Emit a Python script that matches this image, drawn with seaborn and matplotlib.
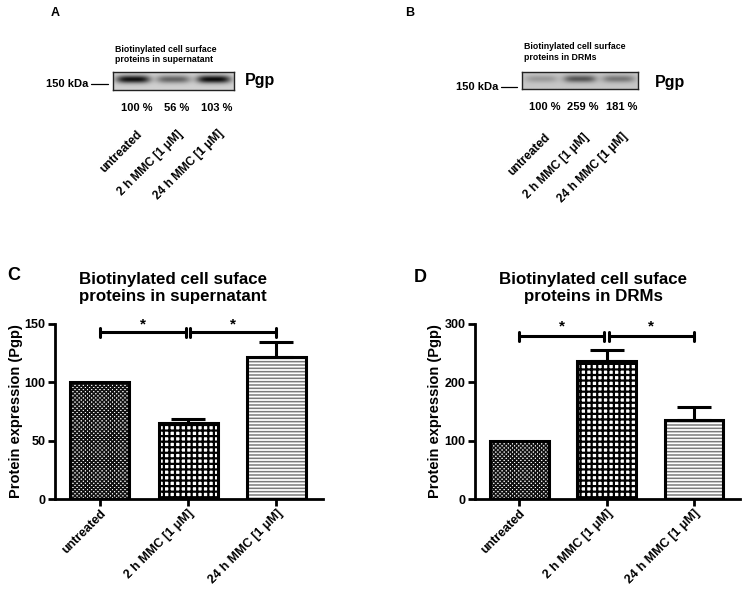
import numpy as np
import pandas as pd
import seaborn as sns
from matplotlib import pyplot as plt
from matplotlib import transforms

W, H = 745, 595

groups = ['untreated', '2 h MMC [1 μM]', '24 h MMC [1 μM]']

# western blot quantification (panels A, B)
blot_sup_percent = [100, 56, 103]
blot_drm_percent = [100, 259, 181]

# densitometry mean +/- SEM (panels C, D)
sup_mean = [100, 65, 122]
sup_err = [0, 4, 13]
drm_mean = [100, 236, 135]
drm_err = [0, 19, 23]

hatches = ['xxxxxxxx', '+++', '-----']
hatch_colors = ['#111111', '#000000', '#7a7a7a']

sns.set_style('ticks')
plt.rcParams['font.family'] = ['Liberation Sans', 'DejaVu Sans']
plt.rcParams['hatch.linewidth'] = 1.0
for key in ('text.color', 'axes.labelcolor', 'xtick.color', 'ytick.color', 'axes.edgecolor'):
    plt.rcParams[key] = 'black'


def px_axes(fig, left, top, width, height):
    return fig.add_axes([left / W, 1 - (top + height) / H, width / W, height / H])


def blot_panel(fig, box, percents, scale, bg, title, title_y, kda_y, pgp_xy, label_y, pct_y):
    ax = px_axes(fig, *box)
    xs = np.linspace(-0.5, 2.5, 300)
    ys = np.linspace(0, 1, 40)
    X, Y = np.meshgrid(xs, ys)
    img = np.full(X.shape, bg)
    for lane, p in enumerate(percents):
        band = np.exp(-((X - lane) / 0.42) ** 4) * np.exp(-((Y - 0.6) / 0.22) ** 2)
        img -= scale * p / max(percents) * band
    ax.imshow(img, cmap='gray', vmin=0, vmax=1, extent=(-0.5, 2.5, 0, 1),
              origin='lower', aspect='auto')
    ax.set_xticks([])
    ax.set_yticks([])
    for s in ax.spines.values():
        s.set_linewidth(1.0)
        s.set_color('#222222')

    tr = transforms.blended_transform_factory(ax.transData, fig.transFigure)
    ax.text(-0.45, 1 + title_y, title, fontsize=6.3, fontweight='bold',
            ha='left', va='bottom', clip_on=False)
    ax.plot([-1.05, -0.62], [kda_y, kda_y], color='black', lw=0.9, clip_on=False)
    ax.text(-1.12, kda_y, '150 kDa', fontsize=8, fontweight='bold', ha='right', va='center')
    ax.text(pgp_xy[0], pgp_xy[1], 'Pgp', fontsize=11.5, fontweight='bold', ha='left', va='center')
    for lane, p in enumerate(percents):
        ax.text(lane + 0.08, 1 - pct_y / H, f'{p} %', fontsize=8, fontweight='bold',
                ha='center', va='center', transform=tr)
        ax.text(lane + 0.08, 1 - label_y / H, groups[lane], fontsize=8.6, fontweight='bold',
                rotation=45, ha='right', va='top', rotation_mode='anchor', transform=tr)
    ax.set_xlim(-0.5, 2.5)
    ax.set_ylim(0, 1)
    return ax


def bar_panel(fig, box, means, errs, top, step, title, title_xy, sig_y, star_y, ylab_x):
    ax = px_axes(fig, *box)
    df = pd.DataFrame({'group': groups, 'value': means})
    sns.barplot(data=df, x='group', y='value', order=groups, ax=ax,
                color='white', width=0.67, linewidth=0)
    for p, h, c in zip(ax.patches, hatches, hatch_colors):
        p.set_facecolor('white')
        p.set_hatch(h)
        p.set_edgecolor(c)
        p.set_linewidth(0)
        if hasattr(p, 'set_hatch_linewidth'):
            p.set_hatch_linewidth(1.6 if h == '+++' else 1.1)
    xs = [p.get_x() + p.get_width() / 2 for p in ax.patches[:3]]
    sns.barplot(data=df, x='group', y='value', order=groups, ax=ax,
                color='black', width=0.67, fill=False, linewidth=2.2)

    for x, m, e in zip(xs, means, errs):
        if e > 0:
            ax.errorbar([x], [m], yerr=[[0], [e]], fmt='none', ecolor='black',
                        elinewidth=2.2, capsize=12, capthick=2.2, zorder=5)

    tick_h = top * 0.025
    for a, b in [(0, 0.975), (1.025, 2)]:
        ax.plot([a, b], [sig_y, sig_y], color='black', lw=2.2, clip_on=False, zorder=6)
        for e in (a, b):
            ax.plot([e, e], [sig_y - tick_h, sig_y + tick_h], color='black', lw=2.2,
                    clip_on=False, zorder=6)
        ax.text((a + b) / 2, star_y, '*', fontsize=11, fontweight='bold',
                ha='center', va='center', clip_on=False)

    ax.set_xlim(-0.51, 2.53)
    ax.set_ylim(0, top)
    ax.set_yticks(range(0, top + 1, step))
    ax.set_xlabel('')
    ax.set_ylabel('Protein expression (Pgp)', fontsize=10.5, fontweight='bold')
    ax.yaxis.set_label_coords(ylab_x, 0.5)
    ax.set_xticks(range(3))
    ax.set_xticklabels(groups, rotation=45, ha='right', rotation_mode='anchor',
                       fontsize=9, fontweight='bold')
    for lbl in ax.get_yticklabels():
        lbl.set_fontweight('bold')
    ax.tick_params(width=2, length=5, pad=2)
    ax.tick_params(axis='y', labelsize=9)
    ax.tick_params(axis='x', labelsize=9, pad=1)
    sns.despine(ax=ax)
    for s in ('left', 'bottom'):
        ax.spines[s].set_linewidth(2)
    fig.text(title_xy[0] / W, 1 - title_xy[1] / H, title, fontsize=12.2, fontweight='bold',
             ha='center', va='center', linespacing=1.1)
    return ax


fig = plt.figure(figsize=(W / 100, H / 100), dpi=100)

blot_panel(fig, (113, 72, 121, 18), blot_sup_percent, 0.78, 0.82,
           'Biotinylated cell surface\nproteins in supernatant', 0.45, 0.33, (2.78, 0.5),
           128, 108)
blot_panel(fig, (522, 72, 116, 17), blot_drm_percent, 0.45, 0.78,
           'Biotinylated cell surface\nproteins in DRMs', 0.6, 0.12, (2.94, 0.4),
           131, 107)

bar_panel(fig, (55, 324, 268, 175), sup_mean, sup_err, 150, 50,
          'Biotinylated cell suface\nproteins in supernatant', (173, 288), 143, 150, -0.12)
bar_panel(fig, (475, 324, 265, 175), drm_mean, drm_err, 300, 100,
          'Biotinylated cell suface\nproteins in DRMs', (593, 288), 279, 295, -0.125)

fig.text(55 / W, 1 - 13 / H, 'A', fontsize=9, fontweight='bold', ha='center', va='center')
fig.text(410 / W, 1 - 13 / H, 'B', fontsize=9, fontweight='bold', ha='center', va='center')
fig.text(14 / W, 1 - 275 / H, 'C', fontsize=13, fontweight='bold', ha='center', va='center')
fig.text(420 / W, 1 - 278 / H, 'D', fontsize=13, fontweight='bold', ha='center', va='center')

fig.savefig('out.png', dpi=100)
